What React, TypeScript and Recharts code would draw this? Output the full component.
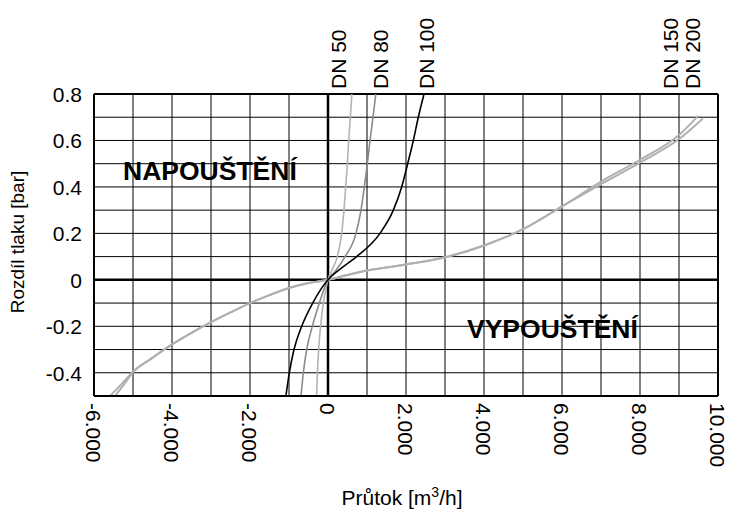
import React from "react";
import { LineChart, Line, XAxis, YAxis, CartesianGrid, ReferenceLine, ReferenceDot } from "recharts";

const FONT = "'Liberation Sans', Arial, sans-serif";

// X axis (flow, m3/h)
const xTicks = [-6000, -5000, -4000, -3000, -2000, -1000, 0, 1000, 2000, 3000, 4000, 5000, 6000, 7000, 8000, 9000, 10000];
const xLabelTicks = [-6000, -4000, -2000, 0, 2000, 4000, 6000, 8000, 10000];
// Y axis (pressure difference, bar)
const yTicks = [-0.5, -0.4, -0.3, -0.2, -0.1, 0, 0.1, 0.2, 0.3, 0.4, 0.5, 0.6, 0.7, 0.8];
const yLabelTicks = [-0.4, -0.2, 0, 0.2, 0.4, 0.6, 0.8];

// Curve labels on top
const dnNames = ["DN 50", "DN 80", "DN 100", "DN 150", "DN 200"];
const dnLabelQ = [256, 1333, 2513, 8770, 9333];

// Series
const dn50Q = [-292, -272, -240, -190, -120, -55, 0, 110, 239, 350, 410, 453, 496, 530, 573, 612];
const dn50P = [-0.5, -0.4, -0.3, -0.2, -0.1, -0.04, 0, 0.045, 0.1, 0.2, 0.3, 0.4, 0.5, 0.6, 0.7, 0.8];

const dn80Q = [-692, -633, -547, -402, -222, -100, 0, 200, 436, 718, 846, 932, 1009, 1077, 1154, 1225];
const dn80P = [-0.5, -0.4, -0.3, -0.2, -0.1, -0.04, 0, 0.04, 0.1, 0.2, 0.3, 0.4, 0.5, 0.6, 0.7, 0.8];

const dn100Q = [-1080, -992, -872, -675, -393, -180, 0, 393, 735, 1333, 1675, 1889, 2043, 2188, 2316, 2462];
const dn100P = [-0.5, -0.4, -0.3, -0.2, -0.1, -0.04, 0, 0.057, 0.1, 0.2, 0.3, 0.4, 0.5, 0.6, 0.7, 0.8];

const dn150Q = [-5460, -5230, -5000, -4500, -4000, -3500, -3000, -2500, -2000, -1500, -1000, -500, 0, 500, 1000, 2000, 3000, 4000, 5000, 6000, 7000, 8000, 9000, 9495];
const dn150P = [-0.5, -0.45, -0.398, -0.336, -0.278, -0.228, -0.182, -0.14, -0.1, -0.066, -0.035, -0.014, 0, 0.021, 0.04, 0.066, 0.097, 0.148, 0.218, 0.316, 0.423, 0.517, 0.624, 0.706];

const dn200Q = [-5590, -5300, -5000, -4500, -4000, -3500, -3000, -2500, -2000, -1500, -1000, -500, 0, 500, 1000, 2000, 3000, 4000, 5000, 6000, 7000, 8000, 9000, 9607];
const dn200P = [-0.5, -0.45, -0.395, -0.335, -0.278, -0.228, -0.182, -0.14, -0.1, -0.066, -0.035, -0.014, 0, 0.021, 0.04, 0.066, 0.097, 0.148, 0.218, 0.316, 0.412, 0.505, 0.606, 0.694];

const toData = (qs: number[], ps: number[]) => qs.map((q, i) => ({ q, dp: ps[i] }));

const dn50 = toData(dn50Q, dn50P);
const dn80 = toData(dn80Q, dn80P);
const dn100 = toData(dn100Q, dn100P);
const dn150 = toData(dn150Q, dn150P);
const dn200 = toData(dn200Q, dn200P);

const fmtX = (v: number) => {
  if (v === 0) return "0";
  return (v < 0 ? "-" : "") + Math.abs(v) / 1000 + ".000";
};

const XTick = (props: any) => {
  const { x, payload } = props;
  const v = payload.value;
  if (!xLabelTicks.includes(v)) return null;
  const y0 = 403;
  return (
    <text
      x={x}
      y={y0}
      dy="0.36em"
      transform={`rotate(90, ${x}, ${y0})`}
      textAnchor="start"
      fontSize={21}
      fontFamily={FONT}
      fill="#000"
    >
      {fmtX(v)}
    </text>
  );
};

const YTick = (props: any) => {
  const { y, payload } = props;
  const v = payload.value;
  if (!yLabelTicks.some((t) => Math.abs(t - v) < 1e-9)) return null;
  return (
    <text x={82} y={y + 8} textAnchor="end" fontSize={21} fontFamily={FONT} fill="#000">
      {Math.abs(v) < 1e-9 ? "0" : String(Math.round(v * 10) / 10)}
    </text>
  );
};

const makeDnShape = (name: string) => (p: any) => {
  const x = p.cx;
  const y0 = (p.cy ?? 94) - 5;
  return (
    <text
      x={x}
      y={y0}
      dy="0.36em"
      transform={`rotate(-90, ${x}, ${y0})`}
      textAnchor="start"
      fontSize={21}
      fontFamily={FONT}
      fill="#000"
    >
      {name}
    </text>
  );
};

export default function App() {
  return (
    <div style={{ width: 730, height: 509, overflow: "visible" }}>
      <style>{"html,body{margin:0;padding:0;overflow:hidden;} #root{width:730px;height:509px;overflow:visible;}"}</style>
      <LineChart
        width={730}
        height={509}
        margin={{ top: 94, right: 12, bottom: 23, left: 0 }}
        style={{ fontFamily: FONT, overflow: "visible" }}
      >
        <CartesianGrid stroke="#000" strokeWidth={1} horizontal vertical />
        <XAxis
          dataKey="q"
          type="number"
          domain={[-6000, 10000]}
          ticks={xTicks}
          interval={0}
          height={90}
          tickLine={false}
          axisLine={{ stroke: "#000", strokeWidth: 2 }}
          tick={<XTick />}
        />
        <YAxis
          type="number"
          domain={[-0.5, 0.8]}
          ticks={yTicks}
          interval={0}
          width={94}
          tickLine={false}
          axisLine={{ stroke: "#000", strokeWidth: 2 }}
          tick={<YTick />}
        />
        <ReferenceLine x={10000} stroke="#000" strokeWidth={2} />
        <ReferenceLine y={0.8} stroke="#000" strokeWidth={2} />
        <ReferenceLine x={0} stroke="#000" strokeWidth={2.5} />
        <ReferenceLine y={0} stroke="#000" strokeWidth={2.5} />
        <Line data={dn150} dataKey="dp" type="monotone" stroke="#b0b0b0" strokeWidth={2} dot={false} isAnimationActive={false} />
        <Line data={dn200} dataKey="dp" type="monotone" stroke="#b0b0b0" strokeWidth={2} dot={false} isAnimationActive={false} />
        <Line data={dn50} dataKey="dp" type="monotone" stroke="#b4b4b4" strokeWidth={1.6} dot={false} isAnimationActive={false} />
        <Line data={dn80} dataKey="dp" type="monotone" stroke="#8a8a8a" strokeWidth={1.6} dot={false} isAnimationActive={false} />
        <Line data={dn100} dataKey="dp" type="monotone" stroke="#000" strokeWidth={1.6} dot={false} isAnimationActive={false} />
        {dnNames.map((name, i) => (
          <ReferenceDot
            key={name}
            x={dnLabelQ[i]}
            y={0.8}
            r={0}
            ifOverflow="visible"
            shape={makeDnShape(name)}
          />
        ))}
        <text x={123} y={180} fontSize={26.5} fontWeight="bold" fontFamily={FONT} fill="#000">NAPOUŠTĚNÍ</text>
        <text x={467} y={338} fontSize={26.5} fontWeight="bold" fontFamily={FONT} fill="#000">VYPOUŠTĚNÍ</text>
        <text
          x={17}
          y={242}
          transform="rotate(-90, 17, 242)"
          textAnchor="middle"
          dominantBaseline="central"
          fontSize={19}
          fontFamily={FONT}
          fill="#000"
        >
          Rozdíl tlaku [bar]
        </text>
        <text x={402} y={505} textAnchor="middle" fontSize={21} fontFamily={FONT} fill="#000">
          Průtok [m<tspan dy={-8} fontSize={14}>3</tspan><tspan dy={8}>/h]</tspan>
        </text>
      </LineChart>
    </div>
  );
}
